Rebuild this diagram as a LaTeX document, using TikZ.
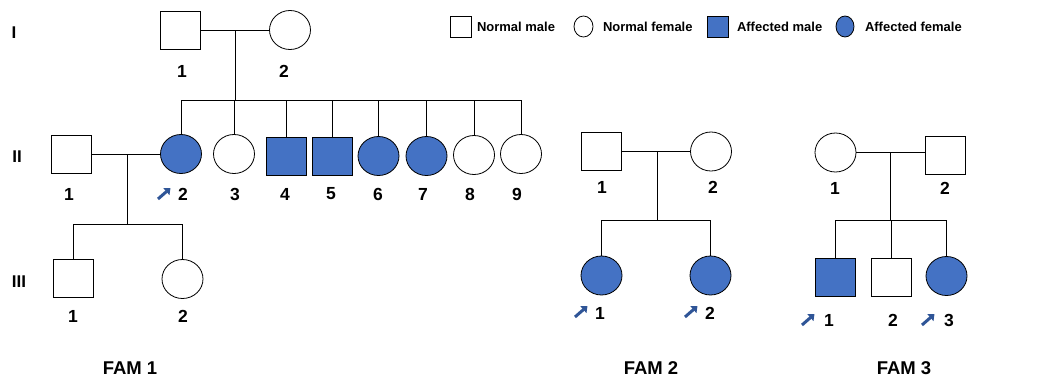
\documentclass[tikz,border=0pt]{standalone}
\usepackage{fontspec}
\setmainfont{Liberation Sans}
\usetikzlibrary{arrows.meta,shapes.geometric,calc}
\definecolor{affc}{HTML}{4472C4}
\definecolor{arrc}{HTML}{2F5597}
\begin{document}
\begin{tikzpicture}[x=1pt,y=-1pt,
  every node/.style={inner sep=0pt,outer sep=0pt},
  male/.style={draw,line width=0.8pt,rectangle,minimum width=40pt,minimum height=38pt},
  female/.style={draw,line width=0.8pt,ellipse,minimum width=41pt,minimum height=39pt},
  affected/.style={fill=affc},
  num/.style={font=\bfseries\fontsize{17.5}{17.5}\selectfont},
  genlbl/.style={font=\bfseries\fontsize{17}{17}\selectfont},
  famlbl/.style={font=\bfseries\fontsize{18.5}{18.5}\selectfont},
  leg/.style={font=\bfseries\fontsize{13}{13}\selectfont,anchor=west},
  lmale/.style={draw,line width=0.8pt,rectangle,minimum width=21pt,minimum height=21pt},
  lfemale/.style={draw,line width=0.8pt,ellipse,minimum width=19pt,minimum height=21pt},
  conn/.style={line width=0.8pt},
  proband/.style={arrc,line width=3pt,-{Triangle[length=5.5pt,width=9pt]}}
]
\useasboundingbox (0,0) rectangle (1043,380);

% ---------- legend ----------
\node[lmale] (lg1) at (460.5,26.5) {};
\node[leg] (lt1) at (477,27) {Normal male};
\node[lfemale] (lg2) at (583.5,26.5) {};
\node[leg] (lt2) at (603,27) {Normal female};
\node[lmale,affected] (lg3) at (717.5,26.5) {};
\node[leg] (lt3) at (737,27) {Affected male};
\node[lfemale,affected,minimum width=18pt] (lg4) at (845,26.5) {};
\node[leg] (lt4) at (865,27) {Affected female};

% ---------- generation labels ----------
\node[genlbl] (gI) at (14,33) {I};
\node[genlbl] (gII) at (17,157) {II};
\node[genlbl] (gIII) at (19,282) {III};

% ---------- FAM 1 ----------
\node[male] (a1) at (180,30) {};
\node[female] (a2) at (290,30) {};
\node[num] at (182,71) {1};
\node[num] at (284,71) {2};
\draw[conn] (a1.east) -- (a2.west);
\coordinate (am) at (235,30);
\coordinate (as) at (235,100);
\draw[conn] (am) -- (as);

\node[male] (b1) at (71.5,154) {};
\node[female,affected] (b2) at (181,154) {};
\node[female] (b3) at (234,154) {};
\node[male,affected] (b4) at (286,156) {};
\node[male,affected] (b5) at (332,156) {};
\node[female,affected] (b6) at (378.5,156) {};
\node[female,affected] (b7) at (426.5,156) {};
\node[female] (b8) at (474,155) {};
\node[female] (b9) at (521,154) {};
\draw[conn] (b2.north |- as) -- (b9.north |- as);
\foreach \n in {b2,b3,b4,b5,b6,b7,b8,b9}{\draw[conn] (\n.north |- as) -- (\n.north);}
\node[num] (nb1) at (69,194) {1};
\node[num] (nb2) at (183,194) {2};
\node[num] at (235,194) {3};
\node[num] at (285,194) {4};
\node[num] at (331,194) {5};
\node[num] at (378,194) {6};
\node[num] at (423,194) {7};
\node[num] at (470,194) {8};
\node[num] at (517,194) {9};
\draw[proband] ($(nb2)+(-25,5)$) -- ++(12.5,-11);

\draw[conn] (b1.east) -- (b2.west);
\coordinate (bm) at (127,154);
\coordinate (bs) at (127,224);
\draw[conn] (bm) -- (bs);
\node[male] (c1) at (73,278) {};
\node[female] (c2) at (182.5,279) {};
\draw[conn] (c1.north |- bs) -- (c2.north |- bs);
\draw[conn] (c1.north |- bs) -- (c1.north);
\draw[conn] (c2.north |- bs) -- (c2.north);
\node[num] at (73,316) {1};
\node[num] at (183,316) {2};
\node[famlbl] at (130,368) {FAM 1};

% ---------- FAM 2 ----------
\node[male] (d1) at (601.5,151.5) {};
\node[female] (d2) at (711,151.5) {};
\draw[conn] (d1.east) -- (d2.west);
\coordinate (dm) at (657,151.5);
\coordinate (ds) at (657,220);
\draw[conn] (dm) -- (ds);
\node[num] at (602,187) {1};
\node[num] at (713,187) {2};
\node[female,affected] (e1) at (601.5,275.5) {};
\node[female,affected] (e2) at (710.5,275.5) {};
\draw[conn] (e1.north |- ds) -- (e2.north |- ds);
\draw[conn] (e1.north |- ds) -- (e1.north);
\draw[conn] (e2.north |- ds) -- (e2.north);
\node[num] (ne1) at (600,313) {1};
\node[num] (ne2) at (710,313) {2};
\draw[proband] ($(ne1)+(-25,4)$) -- ++(12.5,-11);
\draw[proband] ($(ne2)+(-25,4)$) -- ++(12.5,-11);
\node[famlbl] at (651,368) {FAM 2};

% ---------- FAM 3 ----------
\node[female] (f1) at (835.5,152.5) {};
\node[male] (f2) at (945,155.5) {};
\draw[conn] (f1.east) -- (f2.west |- f1.east);
\coordinate (fm) at (890,152.5);
\coordinate (fs) at (890,220);
\draw[conn] (fm) -- (fs);
\node[num] at (835,188) {1};
\node[num] at (945,188) {2};
\node[male,affected] (g1) at (835.5,277) {};
\node[male] (g2) at (891,277) {};
\node[female,affected] (g3) at (946.5,276) {};
\draw[conn] (g1.north |- fs) -- (g3.north |- fs);
\foreach \n in {g1,g2,g3}{\draw[conn] (\n.north |- fs) -- (\n.north);}
\node[num] (ng1) at (829,320) {1};
\node[num] (ng2) at (893,320) {2};
\node[num] (ng3) at (949,320) {3};
\draw[proband] ($(ng1)+(-27,5)$) -- ++(12.5,-11);
\draw[proband] ($(ng3)+(-27,5)$) -- ++(12.5,-11);
\node[famlbl] at (904,368) {FAM 3};
\end{tikzpicture}
\end{document}
